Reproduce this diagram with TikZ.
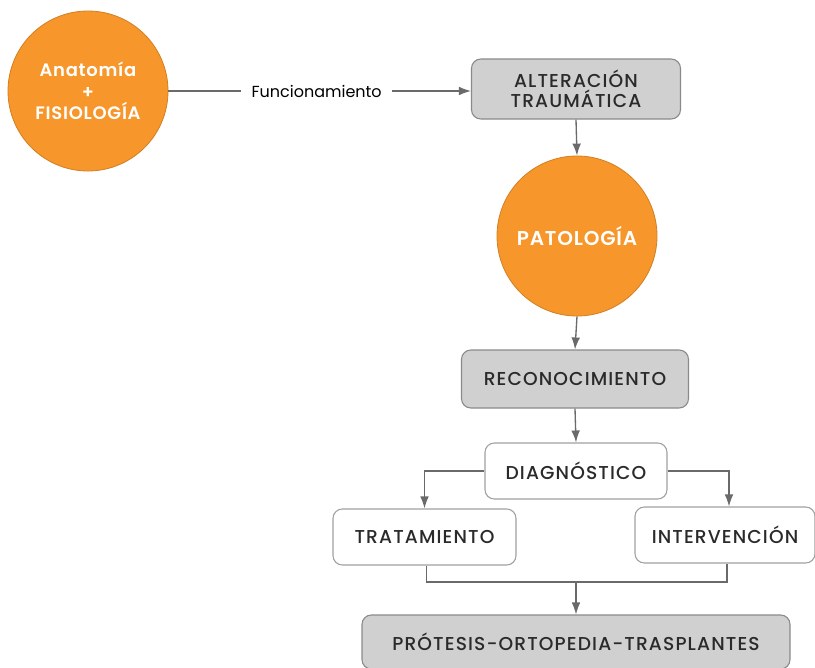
\documentclass[tikz,border=0pt]{standalone}
\usepackage{fontspec}
\setmainfont{Poppins}
\newfontfamily\medfont{Poppins Medium}[LetterSpace=6]
\newfontfamily\boldfont{Poppins SemiBold}[LetterSpace=4]
\usetikzlibrary{arrows.meta,positioning}
\definecolor{orng}{HTML}{F7962A}
\definecolor{boxgray}{HTML}{D0D0D0}
\definecolor{edgegray}{HTML}{8A8A8A}
\definecolor{linegray}{HTML}{6A6A6A}
\definecolor{txt}{HTML}{2A2A2A}
\begin{document}
\begin{tikzpicture}[x=0.75pt,y=-0.75pt,
  circ/.style={circle,fill=orng,draw=orng!85!black,line width=0.6pt,minimum size=160*0.75pt,inner sep=0pt,text=white,font=\boldfont\fontsize{13.5}{16}\selectfont,align=center},
  graybox/.style={rectangle,rounded corners=7pt,fill=boxgray,draw=edgegray,line width=0.8pt,text=txt,font=\medfont\fontsize{14}{15}\selectfont,align=center,inner sep=0pt},
  whitebox/.style={graybox,fill=white,draw=edgegray!80},
  arr/.style={draw=linegray,line width=1pt,-{Latex[length=9pt,width=6.5pt]}},
  ln/.style={draw=linegray,line width=1pt}
]
\useasboundingbox (0,0) rectangle (815,668);
\node[circ] (c1) at (88,91) {Anatomía\\+\\FISIOLOGÍA};
\node[graybox,minimum width=209*0.75pt,minimum height=60*0.75pt] (alt) at (576,89) {ALTERACIÓN\\TRAUMÁTICA};
\node[circ,font=\boldfont\fontsize{15}{16}\selectfont] (pat) at (577,236) {PATOLOGÍA};
\node[graybox,minimum width=227*0.75pt,minimum height=58*0.75pt] (rec) at (575,379) {RECONOCIMIENTO};
\node[whitebox,minimum width=182*0.75pt,minimum height=56*0.75pt] (dia) at (576,471) {DIAGNÓSTICO};
\node[whitebox,minimum width=183*0.75pt,minimum height=56*0.75pt] (tra) at (424.5,537) {TRATAMIENTO};
\node[whitebox,minimum width=180*0.75pt,minimum height=56*0.75pt] (int) at (725,535) {INTERVENCIÓN};
\node[graybox,minimum width=428*0.75pt,minimum height=54*0.75pt] (pro) at (576,642) {PRÓTESIS-ORTOPEDIA-TRASPLANTES};
\coordinate (jn) at (576,582);
% connectors
\draw[arr] (c1.east |- 0,91) -- node[fill=white,text=black,font=\fontsize{12}{13}\selectfont,inner xsep=8pt,pos=0.49]{Funcionamiento} (alt.west |- 0,91);
\draw[arr] (alt.south) -- (pat.north);
\draw[arr] (pat.south) -- (rec.north);
\draw[arr] (rec.south) -- (dia.north);
\draw[arr] (dia.west) -| (tra.north);
\draw[arr] (dia.east) -| ([xshift=4*0.75pt]int.north);
\draw[ln] ([xshift=2*0.75pt]tra.south) |- (jn) -| ([xshift=2*0.75pt]int.south);
\draw[arr] (jn) -- (pro.north);
\end{tikzpicture}
\end{document}
